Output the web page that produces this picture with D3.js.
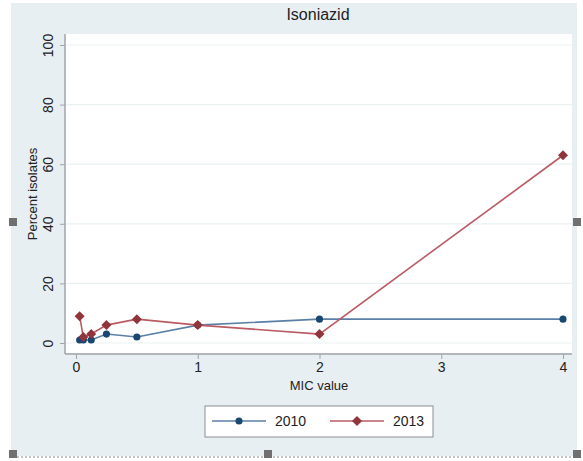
<!DOCTYPE html>
<html lang="en">
<head>
  <meta charset="utf-8">
  <title>Isoniazid</title>
  <script src="https://d3js.org/d3.v7.min.js"></script>
  <style type="text/css">
    body { margin: 0; background: #ffffff; }
    text { font-family: "Liberation Sans", Arial, sans-serif; fill: #222; }
  </style>
</head>
<body>
  <script type="text/javascript">
    // MIC values and percent isolates per year
    var micValues = [0.03, 0.06, 0.125, 0.25, 0.5, 1, 2, 4];
    var pct2010 = [1, 1, 1, 3, 2, 6, 8, 8];
    var pct2013 = [9, 2, 3, 6, 8, 6, 3, 63];
    var years = ["2010", "2013"];
    var xTicks = [0, 1, 2, 3, 4];
    var yTicks = [0, 20, 40, 60, 80, 100];

    var w = 583, h = 461;
    var margin = { top: 34, right: 11, bottom: 108, left: 65 };

    var svg = d3.select("body").append("svg")
      .attr("width", w)
      .attr("height", h);

    // outer graph region
    svg.append("rect")
      .attr("x", 11).attr("y", 3)
      .attr("width", 566).attr("height", 453)
      .attr("fill", "#e8eff2");

    // plot region
    svg.append("rect")
      .attr("x", margin.left).attr("y", margin.top)
      .attr("width", w - margin.left - margin.right)
      .attr("height", h - margin.top - margin.bottom)
      .attr("fill", "#ffffff");

    var x = d3.scaleLinear().domain([0, 4]).range([76, 563]);
    var y = d3.scaleLinear().domain([0, 100]).range([343, 45]);

    // gridlines
    svg.append("g").selectAll("line")
      .data(yTicks)
      .enter().append("line")
      .attr("x1", margin.left + 1).attr("x2", w - margin.right)
      .attr("y1", function (d) { return y(d); })
      .attr("y2", function (d) { return y(d); })
      .attr("stroke", "#eaf1f3")
      .attr("stroke-width", 1.2);

    // y axis, labels turned like stata does
    var yAxis = svg.append("g")
      .attr("transform", "translate(" + margin.left + ",0)")
      .call(d3.axisLeft(y).tickValues(yTicks).tickSize(5));
    yAxis.select(".domain").attr("stroke", "#a0a4a8").attr("stroke-width", 1.5)
      .attr("d", "M0," + margin.top + "V" + (h - margin.bottom + 1));
    yAxis.selectAll(".tick line").attr("stroke", "#a0a4a8");
    yAxis.selectAll(".tick text")
      .attr("font-size", 14)
      .attr("fill", "#222")
      .attr("text-anchor", "middle")
      .attr("x", 0).attr("y", 0).attr("dy", 0)
      .attr("transform", "translate(-12,0) rotate(-90)");

    // x axis
    var xAxis = svg.append("g")
      .attr("transform", "translate(0," + (h - margin.bottom + 1) + ")")
      .call(d3.axisBottom(x).tickValues(xTicks).tickFormat(d3.format("d")).tickSize(5).tickPadding(3));
    xAxis.select(".domain").attr("stroke", "#a0a4a8").attr("stroke-width", 1.5)
      .attr("d", "M" + margin.left + ",0H" + (w - margin.right));
    xAxis.selectAll(".tick line").attr("stroke", "#a0a4a8");
    xAxis.selectAll(".tick text").attr("font-size", 14).attr("fill", "#222");

    // titles
    svg.append("text")
      .attr("x", 318).attr("y", 20)
      .attr("text-anchor", "middle")
      .attr("font-size", 16)
      .text("Isoniazid");

    svg.append("text")
      .attr("x", 319).attr("y", 390)
      .attr("text-anchor", "middle")
      .attr("font-size", 13)
      .text("MIC value");

    svg.append("text")
      .attr("transform", "translate(37,194) rotate(-90)")
      .attr("text-anchor", "middle")
      .attr("font-size", 13)
      .text("Percent isolates");

    var series = [
      { name: years[0], values: pct2010, line: "#5a7fa6", mark: "#1a476f", shape: d3.symbolCircle, size: 40, rot: 0 },
      { name: years[1], values: pct2013, line: "#bb5a62", mark: "#90353b", shape: d3.symbolSquare, size: 50, rot: 45 }
    ];

    var line = d3.line()
      .x(function (d) { return x(d[0]); })
      .y(function (d) { return y(d[1]); });

    series.forEach(function (s) {
      var pts = micValues.map(function (m, i) { return [m, s.values[i]]; });
      svg.append("path")
        .attr("d", line(pts))
        .attr("fill", "none")
        .attr("stroke", s.line)
        .attr("stroke-width", 1.6);
      svg.append("g").selectAll("path")
        .data(pts)
        .enter().append("path")
        .attr("d", d3.symbol().type(s.shape).size(s.size))
        .attr("transform", function (d) { return "translate(" + x(d[0]) + "," + y(d[1]) + ") rotate(" + s.rot + ")"; })
        .attr("fill", s.mark);
    });

    // legend
    var lg = svg.append("g");
    lg.append("rect")
      .attr("x", 205).attr("y", 406)
      .attr("width", 228).attr("height", 31)
      .attr("fill", "#ffffff")
      .attr("stroke", "#8a8e92")
      .attr("stroke-width", 1);
    series.forEach(function (s, i) {
      var lx = 212 + i * 118;
      lg.append("line")
        .attr("x1", lx).attr("x2", lx + 54)
        .attr("y1", 421).attr("y2", 421)
        .attr("stroke", s.line)
        .attr("stroke-width", 1.6);
      lg.append("path")
        .attr("d", d3.symbol().type(s.shape).size(s.size))
        .attr("transform", "translate(" + (lx + 27) + ",421) rotate(" + s.rot + ")")
        .attr("fill", s.mark);
      lg.append("text")
        .attr("x", lx + 63).attr("y", 426)
        .attr("font-size", 14)
        .text(s.name);
    });

    // editor selection handles and dotted border
    svg.append("line")
      .attr("x1", 13).attr("x2", 577)
      .attr("y1", 457).attr("y2", 457)
      .attr("stroke", "#888")
      .attr("stroke-dasharray", "2,2");
    var handles = [[13, 222], [577, 222], [13, 454], [268, 454], [577, 454]];
    svg.append("g").selectAll("rect")
      .data(handles)
      .enter().append("rect")
      .attr("x", function (d) { return d[0] - 4; })
      .attr("y", function (d) { return d[1] - 4; })
      .attr("width", 8).attr("height", 8)
      .attr("fill", "#707070");
  </script>
</body>
</html>
